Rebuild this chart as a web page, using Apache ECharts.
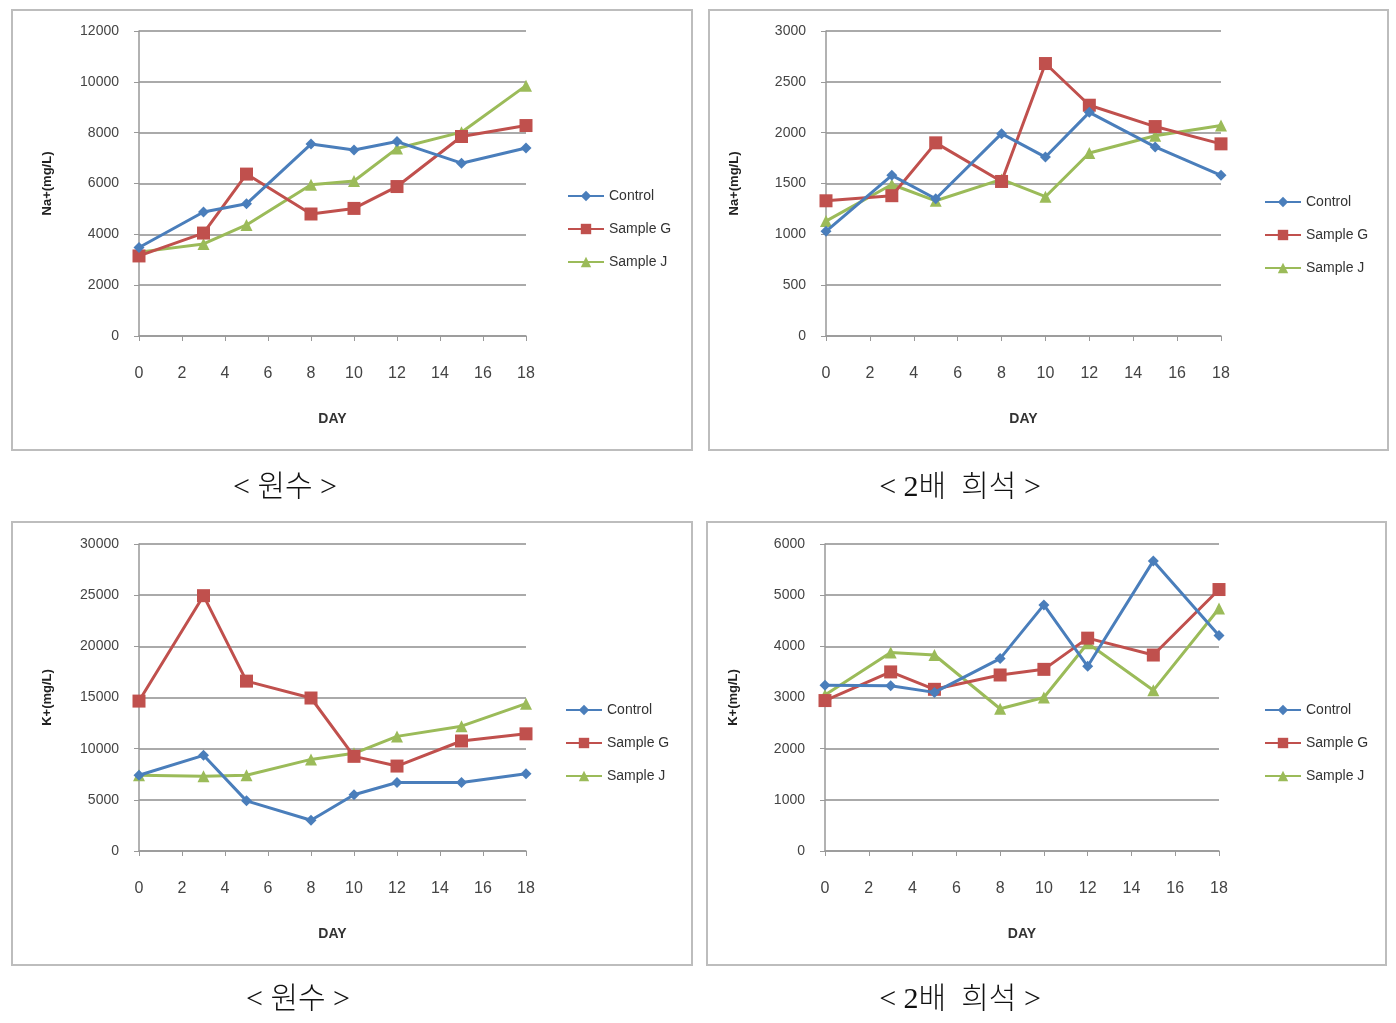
<!DOCTYPE html>
<html>
<head>
<meta charset="utf-8">
<script src="https://cdn.jsdelivr.net/npm/echarts@6/dist/echarts.min.js"></script>
<style>
html,body{margin:0;padding:0;background:#fff;}
#c{width:1396px;height:1023px;}
</style>
</head>
<body>
<div id="c"></div>
<script>
// ---- data ----
const days = [0, 3, 5, 8, 10, 12, 15, 18];
const seriesNames = ['Control', 'Sample G', 'Sample J'];

const naRawControl = [3480, 4880, 5200, 7550, 7320, 7650, 6800, 7400];
const naRawG       = [3150, 4050, 6370, 4800, 5020, 5880, 7850, 8280];
const naRawJ       = [3300, 3620, 4370, 5950, 6100, 7380, 8020, 9850];

const naDilControl = [1030, 1580, 1350, 1990, 1760, 2200, 1860, 1580];
const naDilG       = [1330, 1380, 1900, 1520, 2680, 2270, 2060, 1890];
const naDilJ       = [1130, 1490, 1330, 1540, 1370, 1800, 1970, 2070];

const kRawControl = [7400, 9350, 4900, 3000, 5500, 6700, 6700, 7550];
const kRawG       = [14650, 24950, 16600, 14950, 9250, 8300, 10750, 11450];
const kRawJ       = [7400, 7300, 7400, 8950, 9550, 11200, 12200, 14400];

const kDilControl = [3240, 3230, 3100, 3760, 4810, 3610, 5670, 4210];
const kDilG       = [2940, 3500, 3160, 3440, 3550, 4160, 3830, 5110];
const kDilJ       = [3050, 3880, 3830, 2780, 3000, 4060, 3140, 4740];

const yAxisTitles = ['Na+(mg/L)', 'Na+(mg/L)', 'K+(mg/L)', 'K+(mg/L)'];
const yMax = [12000, 3000, 30000, 6000];
const yStep = [2000, 500, 5000, 1000];
const xTitle = 'DAY';
const captions = ['< 원수 >', '< 2배  희석 >', '< 원수 >', '< 2배  희석 >'];

const panelData = [
  [naRawControl, naRawG, naRawJ],
  [naDilControl, naDilG, naDilJ],
  [kRawControl, kRawG, kRawJ],
  [kDilControl, kDilG, kDilJ]
];

// ---- layout / style ----
const colors = ['#4A7EBB', '#C0504D', '#9BBB59'];
const symbols = ['diamond', 'rect', 'triangle'];
const symbolSizes = [11, 13, 12];
const grids = [
  {left: 139, top: 31, width: 387, height: 305},
  {left: 826, top: 31, width: 395, height: 305},
  {left: 139, top: 544, width: 387, height: 307},
  {left: 825, top: 544, width: 394, height: 307}
];
const boxes = [
  {x: 12, y: 10, w: 680, h: 440},
  {x: 709, y: 10, w: 679, h: 440},
  {x: 12, y: 522, w: 680, h: 443},
  {x: 707, y: 522, w: 679, h: 443}
];
const legendPos = [
  {left: 562, top: 184},
  {left: 1259, top: 190},
  {left: 560, top: 698},
  {left: 1259, top: 698}
];
const captionPos = [
  {x: 285, y: 488}, {x: 960, y: 488}, {x: 298, y: 1000}, {x: 960, y: 1000}
];
const font = 'Liberation Sans, Arial, sans-serif';

const xAxes = [], yAxes = [], series = [], legends = [], graphics = [];
grids.forEach((g, i) => {
  xAxes.push({
    type: 'value', gridIndex: i, min: 0, max: 18, interval: 2,
    name: xTitle, nameLocation: 'middle', nameGap: 76,
    nameTextStyle: {fontFamily: font, fontSize: 14, fontWeight: 'bold', color: '#333'},
    axisLine: {show: true, lineStyle: {color: '#999', width: 1.5}},
    axisTick: {show: true, length: 5, lineStyle: {color: '#999'}},
    axisLabel: {margin: 30, fontFamily: font, fontSize: 16, color: '#444'},
    splitLine: {show: false}
  });
  yAxes.push({
    type: 'value', gridIndex: i, min: 0, max: yMax[i], interval: yStep[i],
    name: yAxisTitles[i], nameLocation: 'middle', nameGap: 85,
    nameTextStyle: {fontFamily: font, fontSize: 13, fontWeight: 'bold', color: '#222'},
    axisLine: {show: true, lineStyle: {color: '#999', width: 1.5}},
    axisTick: {show: true, length: 5, lineStyle: {color: '#999'}},
    axisLabel: {margin: 20, fontFamily: font, fontSize: 14, color: '#444',
      formatter: v => String(v)},
    splitLine: {show: true, lineStyle: {color: '#8E8E8E', width: 1.5}}
  });
  seriesNames.forEach((nm, k) => {
    series.push({
      type: 'line', name: nm, xAxisIndex: i, yAxisIndex: i,
      data: days.map((d, j) => [d, panelData[i][k][j]]),
      symbol: symbols[k], symbolSize: symbolSizes[k],
      lineStyle: {color: colors[k], width: 3},
      itemStyle: {color: colors[k]},
      z: k === 0 ? 4 : (k === 1 ? 3 : 2),
      animation: false
    });
  });
  legends.push({
    orient: 'vertical', left: legendPos[i].left, top: legendPos[i].top,
    itemGap: 19, itemWidth: 36, itemHeight: 13,
    data: seriesNames,
    textStyle: {fontFamily: font, fontSize: 14, color: '#333'}
  });
  const b = boxes[i];
  graphics.push({
    type: 'rect', shape: {x: b.x, y: b.y, width: b.w, height: b.h},
    style: {fill: 'none', stroke: '#BDBDBD', lineWidth: 2}, silent: true
  });
  graphics.push({
    type: 'text', x: captionPos[i].x, y: captionPos[i].y,
    style: {text: captions[i], fontFamily: 'Liberation Serif, Noto Sans CJK KR', fontSize: 30,
      fill: '#111', align: 'center', verticalAlign: 'middle', fontWeight: 300}
  });
});

const chart = echarts.init(document.getElementById('c'), null, {renderer: 'canvas'});
chart.setOption({
  backgroundColor: '#fff',
  animation: false,
  grid: grids,
  xAxis: xAxes,
  yAxis: yAxes,
  legend: legends,
  series: series,
  graphic: graphics
});
</script>
</body>
</html>
